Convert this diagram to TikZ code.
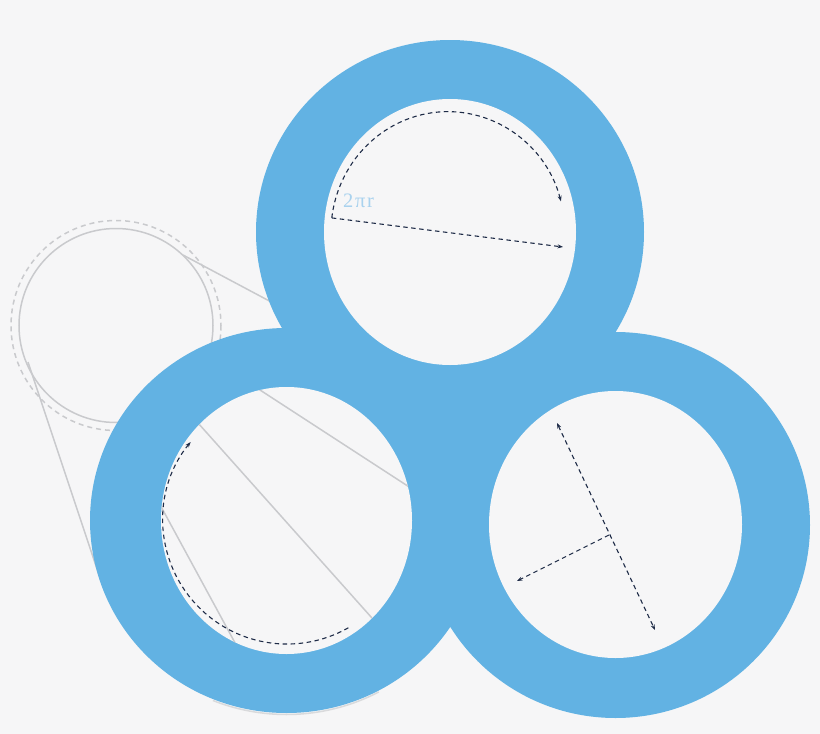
\documentclass[tikz,border=0pt]{standalone}
\usepackage{fontspec}
\usepackage{xcolor}
\usetikzlibrary{arrows.meta}
\newfontfamily\labelfont[LetterSpace = 8]{Liberation Serif}

\definecolor{paper}{HTML}{F6F6F7}
\definecolor{ringblue}{HTML}{62B2E3}
\definecolor{lensgrey}{HTML}{C9CACD}
\definecolor{navy}{HTML}{1E2B47}
\definecolor{labelblue}{HTML}{A9D2EE}

\begin{document}
\begin{tikzpicture}
    [
        x = 1pt, y = -1pt,
        lens/.style = {draw = lensgrey, line width = 1.5pt},
        measure/.style = {draw = navy, line width = 1.1pt, dash pattern = on 4.5pt off 3.5pt,
                          >= {Stealth[length = 5.5pt, width = 4pt]}}
    ]
                % Draw the paper:
                \fill [paper] (0,0) rectangle (820,734);
                \useasboundingbox (0,0) rectangle (820,734);

                % Centres of the rings:
                \coordinate (TopO)   at (450,232);
                \coordinate (LeftO)  at (286.5,520.5);
                \coordinate (RightO) at (615.5,525);
                \coordinate (RightI) at (615.5,524.5);
                \coordinate (LeftShadow) at (286.5,522);

                % Draw the lens and its lines:
                \coordinate (Lens)  at (116,325.5);
                \coordinate (LensA) at (183,255);
                \coordinate (LensB) at (275,304);
                \coordinate (LensC) at (28,362);
                \coordinate (LensD) at (100,578);
                \draw [lens] (Lens) circle (97);
                \draw [lens, dash pattern = on 5pt off 4pt] (Lens) circle (105);
                \draw [lens] (LensA) -- (LensB);
                \draw [lens] (LensC) -- (LensD);
                \draw [lens, draw = lensgrey!70] ([shift = {(62:196.5 and 192.5)}]LeftShadow)
                    arc [start angle = 62, end angle = 112, x radius = 196.5, y radius = 192.5];

                % Draw the rings:
                \fill [ringblue] (TopO)   ellipse [x radius = 194,   y radius = 192]
                                 (LeftO)  ellipse [x radius = 196.5, y radius = 192.5]
                                 (RightO) ellipse [x radius = 194.5, y radius = 193];
                \fill [paper] (TopO)   ellipse [x radius = 126,   y radius = 133];
                \fill [paper] (LeftO)  ellipse [x radius = 125.5, y radius = 133.5];
                \fill [paper] (RightI) ellipse [x radius = 126.5, y radius = 133.5];

                % Draw the lines seen through the left ring:
                \begin{scope}
                    \clip (LeftO) ellipse [x radius = 125.5, y radius = 133.5];
                    \draw [lens] (250,383.5) -- (420,494);
                    \draw [lens] (190,414) -- (380,627);
                    \draw [lens] (158,501) -- (240,652);
                \end{scope}

                % Draw the measures of the top ring:
                \coordinate (TopArc) at (331.8,217.9);
                \coordinate (TopEnd) at (563,247);
                \draw [measure, ->] (TopArc)
                    arc [start angle = 187, end angle = 345, x radius = 117, y radius = 121];
                \draw [measure, ->] (TopArc) -- (TopEnd);
                \node [anchor = base west, inner sep = 0pt, text = labelblue,
                       font = \labelfont\fontsize{20.5}{20.5}\selectfont] (TwoPiR) at (343,207) {2πr};

                % Draw the measures of the left ring:
                \coordinate (LeftArc) at (190.6,442);
                \draw [measure, <-] (LeftArc) arc [start angle = 219, end angle = 59, radius = 124];

                % Draw the measures of the right ring:
                \coordinate (RightTop) at (557,423);
                \coordinate (RightBot) at (655,630);
                \coordinate (RightMid) at (609,535);
                \coordinate (RightTip) at (517,581);
                \draw [measure, <->] (RightTop) -- (RightBot);
                \draw [measure, ->] (RightMid) -- (RightTip);
\end{tikzpicture}
\end{document}
